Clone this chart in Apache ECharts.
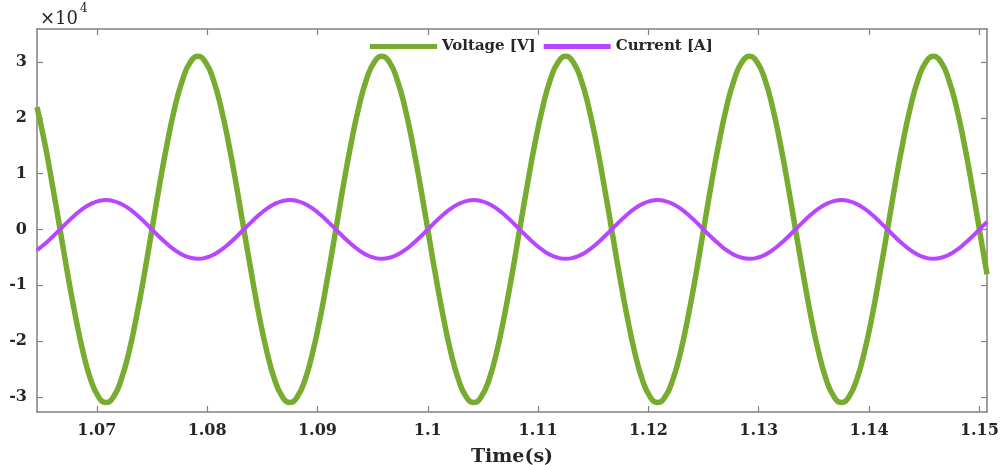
<!DOCTYPE html>
<html>
<head>
<meta charset="utf-8">
<script src="https://cdn.jsdelivr.net/npm/echarts@6/dist/echarts.min.js"></script>
<style>html,body{margin:0;padding:0;background:#fff}#c{width:1002px;height:465px}</style>
</head>
<body>
<div id="c"></div>
<script>
// Time samples (s)
const times = [
  1.06458, 1.06528, 1.06597, 1.06667, 1.06736, 1.06806, 1.06875, 1.06944, 1.07014,
  1.07083, 1.07153, 1.07222, 1.07292, 1.07361, 1.07431, 1.07500, 1.07569, 1.07639, 1.07708, 1.07778, 1.07847,
  1.07917, 1.07986, 1.08056, 1.08125, 1.08194, 1.08264, 1.08333, 1.08403, 1.08472, 1.08542, 1.08611, 1.08681,
  1.08750, 1.08819, 1.08889, 1.08958, 1.09028, 1.09097, 1.09167, 1.09236, 1.09306, 1.09375, 1.09444, 1.09514,
  1.09583, 1.09653, 1.09722, 1.09792, 1.09861, 1.09931, 1.10000, 1.10069, 1.10139, 1.10208, 1.10278, 1.10347,
  1.10417, 1.10486, 1.10556, 1.10625, 1.10694, 1.10764, 1.10833, 1.10903, 1.10972, 1.11042, 1.11111, 1.11181,
  1.11250, 1.11319, 1.11389, 1.11458, 1.11528, 1.11597, 1.11667, 1.11736, 1.11806, 1.11875, 1.11944, 1.12014,
  1.12083, 1.12153, 1.12222, 1.12292, 1.12361, 1.12431, 1.12500, 1.12569, 1.12639, 1.12708, 1.12778, 1.12847,
  1.12917, 1.12986, 1.13056, 1.13125, 1.13194, 1.13264, 1.13333, 1.13403, 1.13472, 1.13542, 1.13611, 1.13681,
  1.13750, 1.13819, 1.13889, 1.13958, 1.14028, 1.14097, 1.14167, 1.14236, 1.14306, 1.14375, 1.14444, 1.14514,
  1.14583, 1.14653, 1.14722, 1.14792, 1.14861, 1.14931, 1.15000, 1.15069
];
// Voltage [V]
const voltage = [
  21920, 15500, 8020, 0, -8020, -15500, -21920, -26850, -29940,
  -31000, -29940, -26850, -21920, -15500, -8020, 0, 8020, 15500, 21920, 26850, 29940,
  31000, 29940, 26850, 21920, 15500, 8020, 0, -8020, -15500, -21920, -26850, -29940,
  -31000, -29940, -26850, -21920, -15500, -8020, 0, 8020, 15500, 21920, 26850, 29940,
  31000, 29940, 26850, 21920, 15500, 8020, 0, -8020, -15500, -21920, -26850, -29940,
  -31000, -29940, -26850, -21920, -15500, -8020, 0, 8020, 15500, 21920, 26850, 29940,
  31000, 29940, 26850, 21920, 15500, 8020, 0, -8020, -15500, -21920, -26850, -29940,
  -31000, -29940, -26850, -21920, -15500, -8020, 0, 8020, 15500, 21920, 26850, 29940,
  31000, 29940, 26850, 21920, 15500, 8020, 0, -8020, -15500, -21920, -26850, -29940,
  -31000, -29940, -26850, -21920, -15500, -8020, 0, 8020, 15500, 21920, 26850, 29940,
  31000, 29940, 26850, 21920, 15500, 8020, 0, -8020
];
// Current [A]
const current = [
  -3710, -2625, -1360, 0, 1360, 2625, 3710, 4550, 5070,
  5250, 5070, 4550, 3710, 2625, 1360, 0, -1360, -2625, -3710, -4550, -5070,
  -5250, -5070, -4550, -3710, -2625, -1360, 0, 1360, 2625, 3710, 4550, 5070,
  5250, 5070, 4550, 3710, 2625, 1360, 0, -1360, -2625, -3710, -4550, -5070,
  -5250, -5070, -4550, -3710, -2625, -1360, 0, 1360, 2625, 3710, 4550, 5070,
  5250, 5070, 4550, 3710, 2625, 1360, 0, -1360, -2625, -3710, -4550, -5070,
  -5250, -5070, -4550, -3710, -2625, -1360, 0, 1360, 2625, 3710, 4550, 5070,
  5250, 5070, 4550, 3710, 2625, 1360, 0, -1360, -2625, -3710, -4550, -5070,
  -5250, -5070, -4550, -3710, -2625, -1360, 0, 1360, 2625, 3710, 4550, 5070,
  5250, 5070, 4550, 3710, 2625, 1360, 0, -1360, -2625, -3710, -4550, -5070,
  -5250, -5070, -4550, -3710, -2625, -1360, 0, 1360
];
const xTicks = [1.07, 1.08, 1.09, 1.10, 1.11, 1.12, 1.13, 1.14, 1.15];
const yTicks = [-30000, -20000, -10000, 0, 10000, 20000, 30000];
const seriesNames = ['Voltage [V]', 'Current [A]'];

const FONT = 'DejaVu Serif';
const AX = '#808080';
const TXT = '#262626';
const xMin = 1.06458, xMax = 1.15069, yMin = -32700, yMax = 35900;

const chart = echarts.init(document.getElementById('c'), null, {renderer: 'canvas'});
const axLine = {show: true, onZero: false, lineStyle: {color: AX, width: 1.5}};
const tick = {show: true, inside: true, length: 6, lineStyle: {color: AX, width: 1.2}};
chart.setOption({
  animation: false,
  backgroundColor: '#fff',
  grid: {left: 37, right: 15, top: 29, bottom: 53, containLabel: false, outerBoundsMode: 'none'},
  legend: {
    left: 370, top: 39, padding: 0, itemWidth: 67, itemHeight: 5, itemGap: 8, icon: 'rect',
    data: seriesNames,
    textStyle: {fontFamily: FONT, fontWeight: 'bold', fontSize: 15, color: TXT}
  },
  graphic: [
    {type: 'text', left: 40, top: 10, style: {text: '×10', font: '18px "DejaVu Serif"', fill: TXT}},
    {type: 'text', left: 80, top: 3, style: {text: '4', font: '12px "DejaVu Serif"', fill: TXT}}
  ],
  xAxis: [{
    type: 'value', position: 'bottom', min: xMin, max: xMax,
    axisLine: axLine,
    axisTick: Object.assign({}, tick, {customValues: xTicks}),
    axisLabel: {customValues: xTicks, margin: 11, fontFamily: FONT, fontWeight: 'bold', fontSize: 16, color: TXT,
      formatter: v => String(+(+v).toFixed(2))},
    splitLine: {show: false},
    name: 'Time(s)', nameLocation: 'middle', nameGap: 36,
    nameTextStyle: {fontFamily: FONT, fontWeight: 'bold', fontSize: 19, color: TXT}
  }, {
    type: 'value', position: 'top', min: xMin, max: xMax,
    axisLine: axLine,
    axisTick: Object.assign({}, tick, {customValues: xTicks}),
    axisLabel: {show: false}, splitLine: {show: false}
  }],
  yAxis: [{
    type: 'value', position: 'left', min: yMin, max: yMax,
    axisLine: axLine,
    axisTick: Object.assign({}, tick, {customValues: yTicks}),
    axisLabel: {customValues: yTicks, margin: 10, fontFamily: FONT, fontWeight: 'bold', fontSize: 16, color: TXT,
      formatter: v => String(Math.round(v / 10000))},
    splitLine: {show: false}
  }, {
    type: 'value', position: 'right', min: yMin, max: yMax,
    axisLine: axLine,
    axisTick: Object.assign({}, tick, {customValues: yTicks}),
    axisLabel: {show: false}, splitLine: {show: false}
  }],
  series: [{
    name: seriesNames[0], type: 'line', smooth: true, showSymbol: false, clip: true,
    data: times.map((t, i) => [t, voltage[i]]),
    lineStyle: {color: '#77AC30', width: 5.5, join: 'round'}, itemStyle: {color: '#77AC30'}
  }, {
    name: seriesNames[1], type: 'line', smooth: true, showSymbol: false, clip: true,
    data: times.map((t, i) => [t, current[i]]),
    lineStyle: {color: '#B845FF', width: 4, join: 'round'}, itemStyle: {color: '#B845FF'}
  }]
});
</script>
</body>
</html>
